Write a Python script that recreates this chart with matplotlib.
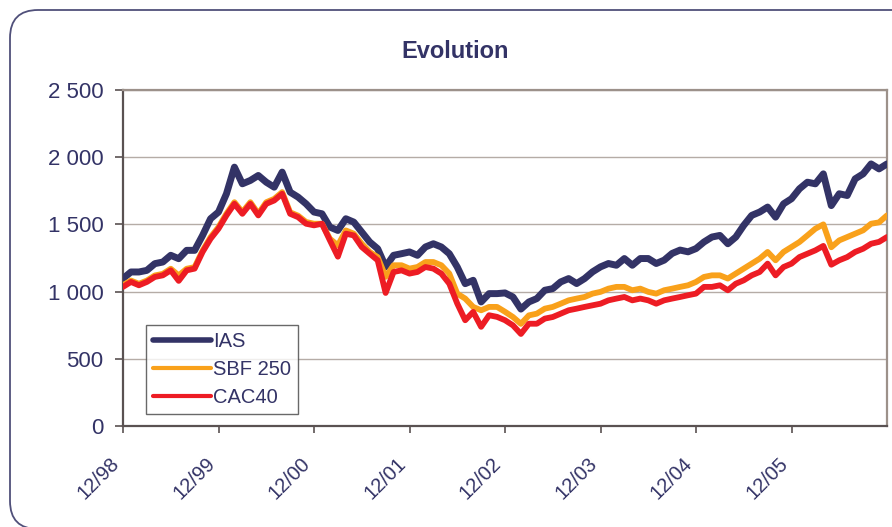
import matplotlib
matplotlib.use("Agg")
import matplotlib.pyplot as plt
from matplotlib.patches import FancyBboxPatch
from matplotlib.transforms import ScaledTranslation
from matplotlib.ticker import FuncFormatter

plt.rcParams['font.family'] = ['Liberation Sans', 'DejaVu Sans']

# months since Dec 1998
months = list(range(97))

ias = [1097, 1146, 1146, 1158, 1208, 1220, 1270, 1245, 1307, 1307,
       1418, 1542, 1592, 1728, 1926, 1802, 1827, 1864, 1814, 1777,
       1889, 1740, 1703, 1653, 1592, 1579, 1480, 1455, 1542, 1517,
       1443, 1369, 1319, 1185, 1270, 1282, 1295, 1270, 1332, 1356,
       1332, 1282, 1183, 1059, 1084, 923, 985, 985, 990, 960,
       870, 923, 948, 1010, 1022, 1072, 1097, 1060, 1097, 1147,
       1184, 1209, 1196, 1246, 1196, 1246, 1246, 1209, 1234, 1284,
       1309, 1296, 1320, 1369, 1406, 1418, 1356, 1406, 1493, 1567,
       1592, 1629, 1554, 1653, 1691, 1765, 1814, 1802, 1876, 1640,
       1728, 1715, 1839, 1876, 1950, 1913, 1950]

sbf250 = [1048, 1082, 1058, 1082, 1120, 1132, 1170, 1120, 1170, 1182,
          1305, 1405, 1480, 1580, 1665, 1592, 1665, 1580, 1665, 1690,
          1740, 1590, 1565, 1518, 1505, 1505, 1393, 1344, 1455, 1431,
          1356, 1295, 1257, 1110, 1196, 1196, 1171, 1183, 1220, 1220,
          1196, 1134, 985, 948, 886, 861, 886, 886, 850, 811,
          760, 823, 836, 873, 886, 910, 935, 948, 960, 985,
          998, 1022, 1035, 1035, 1010, 1022, 998, 985, 1010, 1022,
          1035, 1047, 1072, 1109, 1121, 1121, 1097, 1134, 1171, 1208,
          1245, 1295, 1233, 1295, 1332, 1369, 1418, 1468, 1500, 1330,
          1381, 1406, 1431, 1456, 1505, 1515, 1567]

cac40 = [1035, 1072, 1047, 1072, 1109, 1121, 1158, 1080, 1158, 1171,
         1295, 1393, 1468, 1567, 1653, 1579, 1653, 1567, 1653, 1678,
         1728, 1579, 1554, 1505, 1493, 1505, 1381, 1260, 1431, 1418,
         1332, 1282, 1233, 990, 1146, 1158, 1134, 1146, 1183, 1171,
         1134, 1059, 911, 787, 849, 738, 824, 812, 787, 749,
         685, 761, 761, 799, 811, 836, 861, 873, 886, 898,
         910, 935, 948, 960, 935, 948, 935, 910, 935, 948,
         960, 973, 985, 1035, 1035, 1047, 1010, 1059, 1084, 1121,
         1146, 1208, 1121, 1183, 1208, 1257, 1282, 1307, 1340, 1200,
         1233, 1257, 1295, 1319, 1356, 1370, 1406]

tick_months = [0, 12, 24, 36, 48, 60, 72, 84]
tick_labels = ['12/98', '12/99', '12/00', '12/01', '12/02', '12/03', '12/04', '12/05']
series_names = ['IAS', 'SBF 250', 'CAC40']

NAVY = '#333366'
ORANGE = '#F9A11B'
RED = '#ED1C24'

W, H = 892, 527
fig = plt.figure(figsize=(W / 100, H / 100), dpi=100)

# rounded chart border (right side runs off the picture)
r = 28 / W
border = FancyBboxPatch((10 / W, -2 / H), 915 / W, 519 / H,
                        boxstyle=f'round,pad=0,rounding_size={r}',
                        mutation_aspect=W / H,
                        transform=fig.transFigure, facecolor='none',
                        edgecolor='#50507a', linewidth=1.3, zorder=0)
fig.patches.append(border)

ax = fig.add_axes([123 / W, (H - 426) / H, 764 / W, 336 / H])
ax.set_facecolor('none')

l1, = ax.plot(months, ias, color=NAVY, lw=5.0, solid_capstyle='round', solid_joinstyle='round', label=series_names[0], zorder=3)
l2, = ax.plot(months, sbf250, color=ORANGE, lw=4.2, solid_capstyle='round', solid_joinstyle='round', label=series_names[1], zorder=4)
l3, = ax.plot(months, cac40, color=RED, lw=4.2, solid_capstyle='round', solid_joinstyle='round', label=series_names[2], zorder=5)

ax.set_xlim(0, 96)
ax.set_ylim(0, 2500)
ax.set_yticks([0, 500, 1000, 1500, 2000, 2500])
ax.yaxis.set_major_formatter(FuncFormatter(lambda v, p: f"{int(v):,}".replace(',', ' ')))
ax.grid(axis='y', color='#b5aca6', lw=1.0, zorder=1)
ax.set_axisbelow(True)

ax.set_xticks(tick_months)
ax.set_xticklabels(tick_labels, rotation=45, ha='right', rotation_mode='default')
for lab in ax.get_xticklabels():
    lab.set_transform(lab.get_transform() + ScaledTranslation(-6 / 72, 0, fig.dpi_scale_trans))

ax.tick_params(axis='x', direction='out', length=5, width=1.2, color='#5a5252',
               labelsize=14.5, labelcolor=NAVY, pad=15)
ax.tick_params(axis='y', direction='out', length=6, width=1.2, color='#5a5252',
               labelsize=16, labelcolor=NAVY, pad=8)

for s in ['left', 'bottom']:
    ax.spines[s].set_color('#5a5252')
    ax.spines[s].set_linewidth(1.6)
for s in ['top', 'right']:
    ax.spines[s].set_color('#9c918a')
    ax.spines[s].set_linewidth(1.6)

leg = ax.legend(loc='lower left', bbox_to_anchor=(0.03, 0.036), fontsize=14.5,
                handlelength=2.9, handletextpad=0.1, labelspacing=0.45,
                borderpad=0.35, borderaxespad=0, frameon=True, fancybox=False,
                labelcolor=NAVY)
leg.get_frame().set_edgecolor('#444444')
leg.get_frame().set_linewidth(1.0)
leg.set_zorder(10)
for hl, w in zip(leg.get_lines(), [4.0, 3.0, 3.0]):
    hl.set_linewidth(w)

fig.text(455 / W, 1 - 52 / H, 'Evolution', ha='center', va='center',
         fontsize=17, fontweight='bold', color=NAVY)

fig.savefig('out.png', dpi=100)
